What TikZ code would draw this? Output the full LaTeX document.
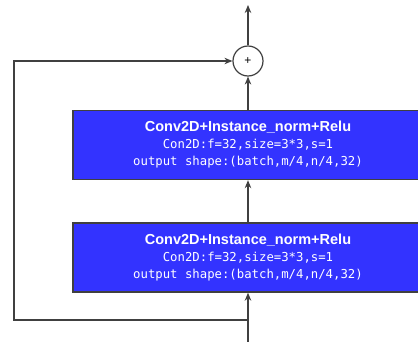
\documentclass[tikz,border=0pt]{standalone}
\usepackage{fontspec}
\setmainfont{Liberation Sans}
\newfontfamily\boxmono{DejaVu Sans Mono}
\usetikzlibrary{arrows.meta}
\definecolor{layerblue}{HTML}{3333FF}
\definecolor{wire}{HTML}{404040}
\tikzset{
  layerbox/.style={draw=wire, line width=1.4pt, fill=layerblue, text=white,
    minimum width=350pt, minimum height=69pt, align=center, inner sep=0pt,
    font=\fontsize{12.3pt}{17pt}\selectfont},
  flow/.style={draw=wire, line width=1.2pt, -{Stealth[length=8pt,width=6.5pt]}},
  sumnode/.style={circle, draw=wire, line width=1.2pt, minimum size=30pt, inner sep=0pt, fill=white}
}
\newcommand{\layertext}{%
  {\fontsize{14.5pt}{17pt}\selectfont\bfseries Conv2D+Instance\_norm+Relu}\\
  {\boxmono Con2D:f=32,size=3*3,s=1}\\
  {\boxmono output shape:(batch,m/4,n/4,32)}}
\begin{document}
\begin{tikzpicture}[x=1pt, y=-1pt]
  \useasboundingbox[fill=white] (0,0) rectangle (418,342);
  % layers
  \node[layerbox] (convA) at (248,145) {\layertext};
  \node[layerbox] (convB) at (248,257.5) {\layertext};
  % residual sum
  \node[sumnode] (sum) at (248,61) {\fontsize{12pt}{12pt}\selectfont +};
  % endpoints of the wires
  \coordinate (input) at (248,342);
  \coordinate (split) at (248,320);
  \coordinate (skipcorner) at (14,320);
  \coordinate (output) at (248,5);
  % main path
  \draw[flow] (input) -- (convB.south);
  \draw[flow] (convB.north) -- (convA.south);
  \draw[flow] (convA.north) -- (sum.south);
  \draw[flow] (sum.north) -- (output);
  % skip connection
  \draw[flow] (split) -- (skipcorner) |- (sum.west);
\end{tikzpicture}
\end{document}
